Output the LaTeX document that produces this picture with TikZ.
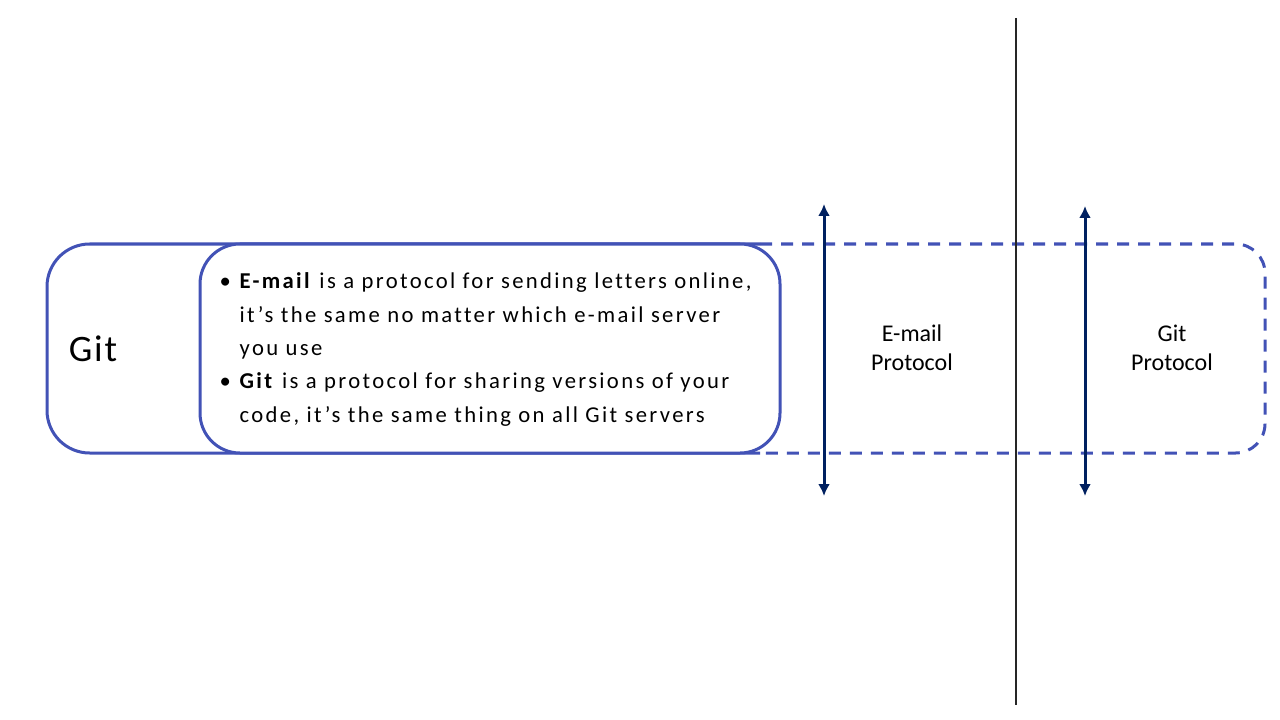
\documentclass[tikz,border=0pt]{standalone}
\usepackage{fontspec}
\setmainfont{Carlito}[Ligatures=NoCommon]
\newfontfamily\widefont{Carlito}[LetterSpace=10.3,Ligatures=NoCommon]
\newfontfamily\gitfont{Carlito}[LetterSpace=5,Ligatures=NoCommon]
\usetikzlibrary{arrows.meta}

\definecolor{boxblue}{RGB}{66,82,182}
\definecolor{arrownavy}{RGB}{0,32,96}
\newcommand{\bul}{\makebox[15pt][l]{•}}
\newcommand{\ind}{\hspace*{15pt}}

\begin{document}
\begin{tikzpicture}[
            x = 0.75pt, y = -0.75pt, % one unit = one pixel of the slide
            > = {Latex[length=9pt,width=9pt]}, % arrow head style
            boxline/.style = {draw=boxblue, line width=2.25pt},
            dashline/.style = {boxline, dash pattern=on 9pt off 6.75pt},
            twoway/.style = {<->, draw=arrownavy, fill=arrownavy, line width=2.25pt},
            protolabel/.style = {align=center, font=\fontsize{18}{21.75}\selectfont}
        ]
	\useasboundingbox (0,0) rectangle (1280,720);

	% outer band: solid on the left, dashed on the right
	\draw[boxline, rounded corners=32pt] (760,244) -- (47,244) -- (47,453) -- (760,453);
	\draw[dashline, rounded corners=22pt] (760,244) -- (1265,244) -- (1265,453) -- (760,453);

	\node[boxline, fill=white, rounded corners=30pt, minimum width=435pt, minimum height=156.75pt] (inner) at (490,348.5) {};

	\node (git) at (93,349) {\gitfont\fontsize{28}{34}\selectfont Git};
	\node[anchor=west, align=left, font=\widefont\fontsize{17}{25}\selectfont] (list) at (215,349.5) {%
		\bul\textbf{E-mail} is a protocol for sending letters online,\\
		\ind it’s the same no matter which e-mail server\\
		\ind you use\\
		\bul\textbf{Git} is a protocol for sharing versions of your\\
		\ind code, it’s the same thing on all Git servers};

	\node[protolabel] (mail) at (912,348) {E-mail\\Protocol};
	\node[protolabel] (gitp) at (1172,348) {Git\\Protocol};

	\coordinate (mailtop) at (824,204);
	\coordinate (mailbot) at (824,496);
	\coordinate (gittop) at (1085,206);
	\coordinate (gitbot) at (1085,496);
	\draw[twoway] (mailtop) -- (mailbot);
	\draw[twoway] (gittop) -- (gitbot);

	% divider
	\coordinate (divtop) at (1016,18);
	\coordinate (divbot) at (1016,705);
	\draw[black!85, line width=2pt] (divtop) -- (divbot);

\end{tikzpicture}
\end{document}
